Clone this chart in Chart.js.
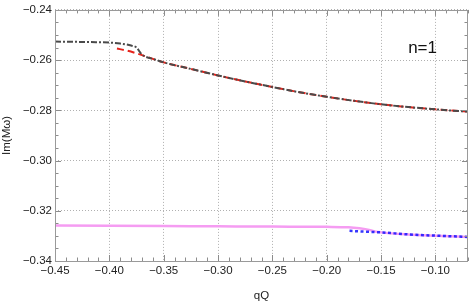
<!DOCTYPE html>
<html>
<head>
<meta charset="utf-8">
<script src="https://cdn.jsdelivr.net/npm/chart.js@4/dist/chart.umd.min.js"></script>
<style>
  html, body { margin: 0; padding: 0; background: #fff; }
  #wrap { width: 469px; height: 303px; }
</style>
</head>
<body>
<div id="wrap"><canvas id="qnmChart" width="469" height="303"></canvas></div>
<script>
// upper branch (dash-dot, full range)
const qUpper  = [-0.45, -0.42, -0.40, -0.39, -0.38, -0.375, -0.372, -0.37, -0.36, -0.35, -0.325, -0.30, -0.275, -0.25, -0.225, -0.20, -0.175, -0.15, -0.125, -0.10, -0.085, -0.07];
const imUpper = [-0.2526, -0.2528, -0.2530, -0.2534, -0.2542, -0.2550, -0.2567, -0.2578, -0.2595, -0.2609, -0.2635, -0.2661, -0.2685, -0.2707, -0.2728, -0.2746, -0.2762, -0.2776, -0.2787, -0.2796, -0.2801, -0.2805];
// upper branch approximation (red dashed)
const qRed  = [-0.393, -0.385, -0.375, -0.37, -0.36, -0.35, -0.325, -0.30, -0.275, -0.25, -0.225, -0.20, -0.175, -0.15, -0.125, -0.10, -0.085, -0.07];
const imRed = [-0.2554, -0.2561, -0.2573, -0.2580, -0.2595, -0.2609, -0.2635, -0.2661, -0.2685, -0.2707, -0.2728, -0.2746, -0.2762, -0.2776, -0.2787, -0.2796, -0.2801, -0.2805];
// lower branch (pink solid, full range)
const qLower  = [-0.45, -0.40, -0.35, -0.30, -0.25, -0.20, -0.18, -0.17, -0.16, -0.155, -0.15, -0.125, -0.10, -0.07];
const imLower = [-0.3259, -0.3260, -0.3261, -0.3262, -0.3263, -0.3264, -0.3266, -0.3270, -0.3277, -0.3283, -0.3286, -0.3294, -0.3299, -0.3304];
// lower branch approximation (blue dotted)
const qBlue  = [-0.179, -0.165, -0.15, -0.125, -0.10, -0.07];
const imBlue = [-0.3280, -0.3283, -0.3286, -0.3294, -0.3299, -0.3304];

const xTicks = [-0.45, -0.40, -0.35, -0.30, -0.25, -0.20, -0.15, -0.10];
const yTicks = [-0.34, -0.32, -0.30, -0.28, -0.26, -0.24];
const panelLabel = "n=1";

const fontFam = "'Liberation Sans', Arial, sans-serif";

function pts(xs, ys) {
  return xs.map((x, i) => ({ x: x, y: ys[i] }));
}
function fmt(v) {
  return v.toFixed(2).replace("-", "\u2212");
}

// frame, inward ticks on all sides, panel label
const framePlugin = {
  id: "frame",
  afterDraw(chart) {
    const { ctx, chartArea: a, scales } = chart;
    const xs = scales.x, ys = scales.y;
    ctx.save();
    ctx.strokeStyle = "#8c8c8c";
    ctx.lineWidth = 1;
    ctx.beginPath();
    for (let i = 0; i <= 38; i++) {
      const v = -0.45 + i * 0.01;
      const px = Math.round(xs.getPixelForValue(v)) + 0.5;
      const len = i % 5 === 0 ? 6 : 3.5;
      ctx.moveTo(px, a.bottom); ctx.lineTo(px, a.bottom - len);
      ctx.moveTo(px, a.top); ctx.lineTo(px, a.top + len);
    }
    for (let i = 0; i <= 20; i++) {
      const v = -0.34 + i * 0.005;
      const py = Math.round(ys.getPixelForValue(v)) + 0.5;
      const len = i % 4 === 0 ? 6 : 3.5;
      ctx.moveTo(a.left, py); ctx.lineTo(a.left + len, py);
      ctx.moveTo(a.right, py); ctx.lineTo(a.right - len, py);
    }
    ctx.stroke();
    ctx.strokeStyle = "#9a9a9a";
    ctx.strokeRect(Math.round(a.left) + 0.5, Math.round(a.top) + 0.5,
      Math.round(a.right - a.left) - 1, Math.round(a.bottom - a.top));
    ctx.fillStyle = "#111";
    ctx.font = "17px " + fontFam;
    ctx.textAlign = "center";
    ctx.textBaseline = "middle";
    ctx.fillText(panelLabel, xs.getPixelForValue(-0.1118), ys.getPixelForValue(-0.2554));
    ctx.restore();
  }
};

const chart = new Chart(document.getElementById("qnmChart").getContext("2d"), {
  type: "line",
  data: {
    datasets: [
      {
        data: pts(qUpper, imUpper),
        borderColor: "#4a4a4a",
        borderWidth: 2,
        borderDash: [6, 2, 2, 2],
        cubicInterpolationMode: "monotone"
      },
      {
        data: pts(qRed, imRed),
        borderColor: "#e5231b",
        borderWidth: 2,
        borderDash: [7, 4],
        cubicInterpolationMode: "monotone"
      },
      {
        data: pts(qBlue, imBlue),
        borderColor: "rgba(20,20,255,0.85)",
        borderWidth: 2.5,
        borderDash: [3, 2.5],
        cubicInterpolationMode: "monotone"
      },
      {
        data: pts(qLower, imLower),
        borderColor: "#f59cf2",
        borderWidth: 2.5,
        cubicInterpolationMode: "monotone"
      }
    ]
  },
  options: {
    responsive: false,
    animation: false,
    devicePixelRatio: 1,
    layout: { padding: { left: 0, top: 7, right: 1, bottom: 0 } },
    elements: { point: { radius: 0 } },
    plugins: { legend: { display: false }, tooltip: { enabled: false } },
    scales: {
      x: {
        type: "linear",
        min: -0.45,
        max: -0.07,
        afterBuildTicks: (s) => { s.ticks = xTicks.map((v) => ({ value: v })); },
        afterFit: (s) => { s.height = 42; },
        ticks: {
          callback: fmt,
          color: "#222",
          font: { size: 11.5, family: fontFam },
          padding: 3,
          maxRotation: 0,
          autoSkip: false
        },
        grid: { color: "#b0b0b0", drawTicks: false, lineWidth: 1 },
        border: { display: false, dash: [1, 2] },
        title: {
          display: true,
          text: "qQ",
          color: "#222",
          font: { size: 11.5, family: fontFam },
          padding: { top: 0, bottom: 0 }
        }
      },
      y: {
        type: "linear",
        min: -0.34,
        max: -0.24,
        afterBuildTicks: (s) => { s.ticks = yTicks.map((v) => ({ value: v })); },
        afterFit: (s) => { s.width = 55; },
        ticks: {
          callback: fmt,
          color: "#222",
          font: { size: 11.5, family: fontFam },
          padding: 3,
          autoSkip: false
        },
        grid: { color: "#b0b0b0", drawTicks: false, lineWidth: 1 },
        border: { display: false, dash: [1, 2] },
        title: {
          display: true,
          text: "Im(M\u03c9)",
          color: "#222",
          font: { size: 11.5, family: fontFam },
          padding: { top: 0, bottom: 0 }
        }
      }
    }
  },
  plugins: [framePlugin]
});
</script>
</body>
</html>
